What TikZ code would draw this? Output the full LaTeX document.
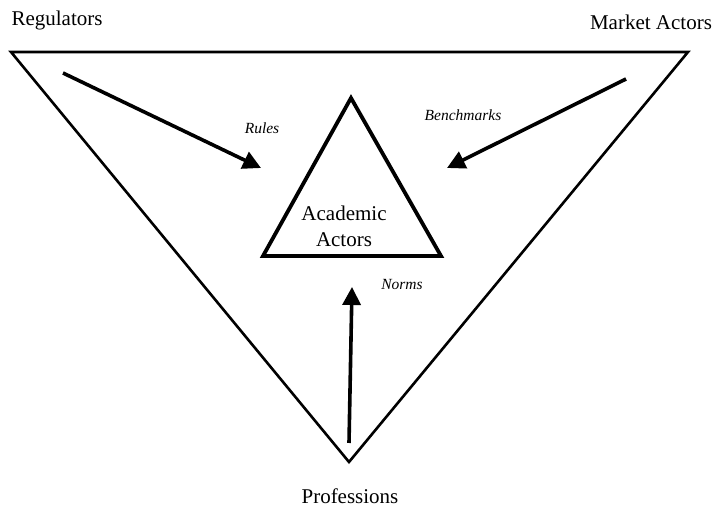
\documentclass[tikz,border=0pt]{standalone}
\usepackage{fontspec}
\setmainfont{Liberation Serif}
\usetikzlibrary{arrows.meta}
\begin{document}
\begin{tikzpicture}[x=1pt,y=1pt,
  lbl/.style={font=\fontsize{21}{23}\selectfont, inner sep=0pt},
  flow/.style={font=\itshape\fontsize{15.5}{17}\selectfont, inner sep=0pt},
  outer/.style={line width=2.6pt, line join=miter},
  inner/.style={line width=3.8pt, line join=miter},
  push/.style={line width=3.6pt, -{Triangle[length=18pt,width=18pt]}}]
\useasboundingbox (0,0) rectangle (716,511);
\fill[white] (0,0) rectangle (716,511);
% outer triangle
\coordinate (TL) at (11,459);
\coordinate (TR) at (688,459);
\coordinate (B) at (349,49);
\draw[outer] (TL) -- (TR) -- (B) -- cycle;
% inner triangle
\coordinate (IA) at (351,413);
\coordinate (IL) at (263,255);
\coordinate (IR) at (441,255);
\draw[inner] (IA) -- (IR) -- (IL) -- cycle;
% labels
\node[lbl] (reg) at (57,491) {Regulators};
\node[lbl] (mkt) at (651,489) {Market Actors};
\node[lbl] (prof) at (350,15) {Professions};
\node[lbl, align=center, font=\fontsize{21}{26}\selectfont] (acad) at (344,285) {Academic\\Actors};
\node[flow] (rules) at (262,383) {Rules};
\node[flow] (bench) at (463,396) {Benchmarks};
\node[flow] (norms) at (402,226) {Norms};
% arrows
\coordinate (rs) at (63,438);
\coordinate (re) at (261,343);
\coordinate (bs) at (626,432);
\coordinate (be) at (447,343);
\coordinate (ns) at (349,68);
\coordinate (ne) at (352,224);
\draw[push] (rs) -- (re);
\draw[push] (bs) -- (be);
\draw[push] (ns) -- (ne);
\end{tikzpicture}
\end{document}
